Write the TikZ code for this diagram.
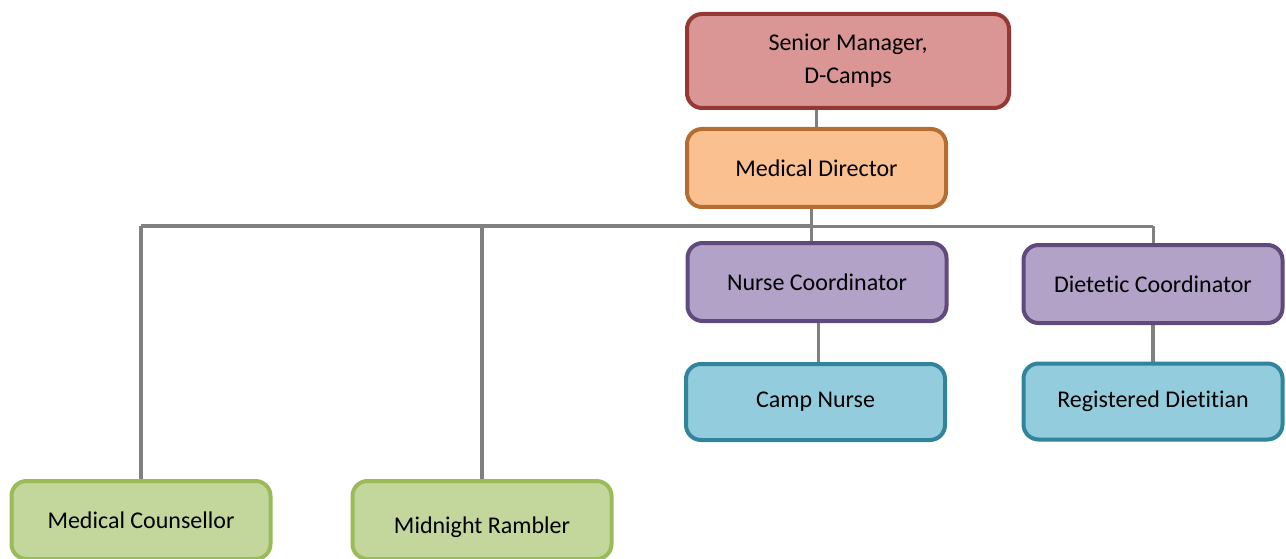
\documentclass[tikz,border=0pt]{standalone}
\usepackage{fontspec}
\setmainfont{Carlito}[Ligatures={NoCommon}]
\usetikzlibrary{positioning}
\usetikzlibrary{backgrounds}
\definecolor{redfill}{HTML}{D99694}
\definecolor{reddraw}{HTML}{953735}
\definecolor{orangefill}{HTML}{FAC090}
\definecolor{orangedraw}{HTML}{B66D31}
\definecolor{purplefill}{HTML}{B3A2C7}
\definecolor{purpledraw}{HTML}{604A7B}
\definecolor{bluefill}{HTML}{93CDDD}
\definecolor{bluedraw}{HTML}{31849B}
\definecolor{greenfill}{HTML}{C3D69B}
\definecolor{greendraw}{HTML}{9BBB59}
\definecolor{linkgray}{HTML}{808080}

\begin{document}
\begin{tikzpicture}[  x=1pt, y=-1pt,  font=\fontsize{24}{33}\selectfont,  box/.style={    draw,    rectangle,    rounded corners=15pt,    line width=4pt,    minimum width=259pt,    minimum height=78pt,    inner sep=0pt,    align=center  },  redbox/.style={box, fill=redfill, draw=reddraw, minimum width=322pt, minimum height=94pt},  orangebox/.style={box, fill=orangefill, draw=orangedraw},  purplebox/.style={box, fill=purplefill, draw=purpledraw},  bluebox/.style={box, fill=bluefill, draw=bluedraw, minimum height=76pt},  greenbox/.style={box, fill=greenfill, draw=greendraw},  link/.style={    draw=linkgray,    line width=3.5pt  }]
		\useasboundingbox (0,0) rectangle (1286,559);
		% Nodes
		\node[redbox] (SM) at (848,61) {Senior Manager,\\D-Camps};
		\node[orangebox] (MD) at (816.5,168) {Medical Director};
		\node[purplebox] (NC) at (817,282) {Nurse Coordinator};
		\node[purplebox] (DC) at (1153,284) {Dietetic Coordinator};
		\node[bluebox] (CN) at (815.5,402) {Camp Nurse};
		\node[bluebox] (RD) at (1153,401.5) {Registered Dietitian};
		\node[greenbox] (MC) at (141,520) {Medical Counsellor};
		\node[greenbox] (MR) at (482,520) {\rule{0pt}{32pt}Midnight Rambler};
		\coordinate (bus) at (0,226);
		% Lines
		\begin{scope}[on background layer]
		\draw[link] (SM.south -| MD.north) -- (MD.north);
		\draw[link] ([xshift=-5pt]MD.south) -- ([xshift=-5pt]MD.south |- NC.north);
		\draw[link] (MC.north |- bus) -- ([xshift=-5pt]MD.south |- bus);
		\draw[link, line width=3pt] ([xshift=-5pt]MD.south |- bus) -- (DC.north |- bus);
		\draw[link] (MC.north |- bus) -- (MC.north);
		\draw[link] (MR.north |- bus) -- (MR.north);
		\draw[link, line width=3pt] (DC.north |- bus) -- (DC.north);
		\draw[link] ([xshift=3pt]NC.south -| CN.north) -- ([xshift=3pt]CN.north);
		\draw[link] (DC.south) -- (RD.north);
		\end{scope}
	\end{tikzpicture}
\end{document}
